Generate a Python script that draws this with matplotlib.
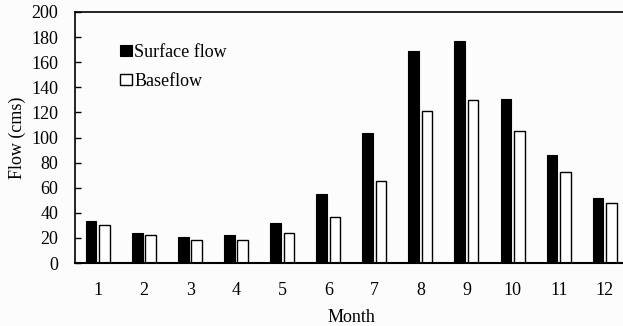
import matplotlib
matplotlib.use("Agg")
import matplotlib.pyplot as plt
import numpy as np

months = [1, 2, 3, 4, 5, 6, 7, 8, 9, 10, 11, 12]
surface_flow = [33.5, 24, 21, 22.5, 31.5, 55, 103.5, 169, 176.5, 131, 86, 52]
baseflow = [30.5, 22.5, 18.5, 18.5, 24, 37, 65.5, 121, 129.5, 105, 72.5, 48]
yticks = [0, 20, 40, 60, 80, 100, 120, 140, 160, 180, 200]

plt.rcParams['font.family'] = ['Liberation Serif', 'DejaVu Serif']

fig = plt.figure(figsize=(6.23, 3.26), dpi=100, facecolor='#fcfcfc')
ax = fig.add_axes([75/623, 1-263/326, (628-75)/623, (263-12)/326])
ax.set_facecolor('#fcfcfc')

x = np.array(months, dtype=float)
w = 0.23
ax.bar(x - 0.15, surface_flow, width=w, color='black', edgecolor='black',
       linewidth=0.8, label='Surface flow')
ax.bar(x + 0.14, baseflow, width=w, color='white', edgecolor='black',
       linewidth=1.0, label='Baseflow')

ax.set_xlim(0.5, 12.5)
ax.set_ylim(0, 200)
ax.set_yticks(yticks)
ax.set_xticks(months)
ax.set_xticklabels([str(m) for m in months])
ax.tick_params(axis='both', labelsize=13, colors='black')
ax.tick_params(axis='x', length=0, pad=14)
ax.tick_params(axis='y', direction='in', length=4, width=1, pad=12)

for s in ['top', 'left', 'right']:
    ax.spines[s].set_linewidth(1.2)
ax.spines['bottom'].set_linewidth(1.5)

ax.set_ylabel('Flow (cms)', fontsize=13, labelpad=4)
ax.set_xlabel('Month', fontsize=13, labelpad=7)

leg = ax.legend(loc='upper left', bbox_to_anchor=(0.068, 0.90), frameon=False,
                fontsize=13, handlelength=0.65, handleheight=0.55,
                handletextpad=0.15, labelspacing=0.62, borderaxespad=0)

fig.savefig('out.png', dpi=100, facecolor=fig.get_facecolor())
